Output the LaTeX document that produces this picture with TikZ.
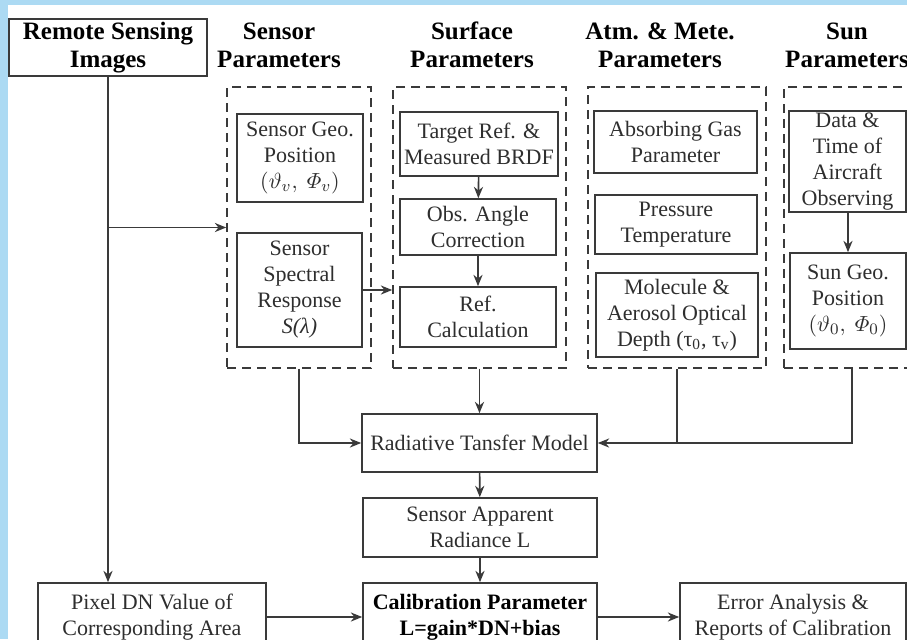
\documentclass[tikz,border=0pt]{standalone}
\usepackage{amsmath}
\usepackage{fontspec}
\setmainfont{Liberation Serif}
\usetikzlibrary{arrows.meta,positioning,calc}
\definecolor{lnclr}{HTML}{3A3A3A}
\definecolor{txclr}{HTML}{2E2E2E}
\definecolor{frmblue}{RGB}{172,218,243}
\tikzset{
  >={Stealth[length=2mm,width=1.6mm]},
  hdr/.style={font=\fontsize{12.5}{14}\selectfont\bfseries,align=center,
    inner sep=0pt,text=black},
  pbox/.style={draw=lnclr,line width=0.8pt,align=center,inner sep=1pt,
    font=\fontsize{11}{13}\selectfont,text=txclr},
  bbox/.style={pbox,font=\fontsize{11}{13}\selectfont\bfseries,text=black},
  grp/.style={draw=lnclr,line width=0.8pt,dash pattern=on 4.5pt off 3pt,
    inner sep=0pt},
  flow/.style={->,draw=lnclr,line width=0.8pt},
  link/.style={draw=lnclr,line width=0.8pt},
}
\begin{document}
\begin{tikzpicture}[x=0.5pt,y=-0.5pt]
  \useasboundingbox (0,0) rectangle (907,639);
  \clip (0,0) rectangle (907,639);
  \fill[white] (0,0) rectangle (907,639);
  \fill[frmblue] (0,0) rectangle (907,5);
  \fill[frmblue] (0,0) rectangle (8,639);

  % column headers
  \node[pbox,font=\fontsize{12.5}{14}\selectfont\bfseries,text=black,
    minimum width=99pt,minimum height=28.5pt] (rsi) at (108,47.5)
    {Remote Sensing\\Images};
  \node[hdr] (hsen) at (279,45) {Sensor\\Parameters};
  \node[hdr] (hsur) at (472,45) {Surface\\Parameters};
  \node[hdr] (hatm) at (660,45) {Atm. \& Mete.\\Parameters};
  \node[hdr] (hsun) at (847,45) {Sun\\Parameters};

  % parameter groups
  \node[grp,minimum width=72pt,minimum height=140.5pt] (gsen) at (299,227.5) {};
  \node[grp,minimum width=86.5pt,minimum height=140.5pt] (gsur) at (479.5,227.5) {};
  \node[grp,minimum width=89pt,minimum height=140.5pt] (gatm) at (677,227.5) {};
  \node[grp,minimum width=68pt,minimum height=140.5pt] (gsun) at (852,227.5) {};

  \node[pbox,minimum width=63pt,minimum height=44pt] (sgeo) at (300,158)
    {Sensor Geo.\\Position\\$(\vartheta_v,\ \varPhi_v)$};
  \node[pbox,minimum width=62.5pt,minimum height=57pt] (sspec) at (299.5,290)
    {Sensor\\Spectral\\Response\\\textit{S(λ)}};

  \node[pbox,minimum width=79pt,minimum height=32pt] (tref) at (479,144)
    {Target Ref. \&\\Measured BRDF};
  \node[pbox,minimum width=78pt,minimum height=28pt] (obs) at (478,227)
    {Obs. Angle\\Correction};
  \node[pbox,minimum width=78pt,minimum height=30pt] (refc) at (478,317)
    {Ref.\\Calculation};

  \node[pbox,minimum width=81.5pt,minimum height=31pt] (gas) at (675.5,142)
    {Absorbing Gas\\Parameter};
  \node[pbox,minimum width=81pt,minimum height=29.5pt] (prt) at (676,224.5)
    {Pressure\\Temperature};
  \node[pbox,minimum width=81pt,minimum height=42pt] (mol) at (677,315)
    {Molecule \&\\Aerosol Optical\\Depth (τ\textsubscript{0}, τ\textsubscript{v})};

  \node[pbox,minimum width=58.5pt,minimum height=50.5pt] (dtime) at (847.5,161.5)
    {Data \&\\Time of\\Aircraft\\Observing};
  \node[pbox,minimum width=58pt,minimum height=48pt] (sungeo) at (848,301)
    {Sun Geo.\\Position\\$(\vartheta_0,\ \varPhi_0)$};

  % model chain
  \node[pbox,minimum width=117.5pt,minimum height=29pt] (rtm) at (479.5,443)
    {Radiative Tansfer Model};
  \node[pbox,minimum width=117pt,minimum height=29.5pt] (sar) at (480,527.5)
    {Sensor Apparent\\Radiance L};
  \node[bbox,minimum width=117pt,minimum height=34pt] (calib) at (480,617)
    {Calibration Parameter\\L=gain*DN+bias};
  \node[pbox,minimum width=114pt,minimum height=34pt] (pixel) at (152,617)
    {Pixel DN Value of\\Corresponding Area};
  \node[pbox,minimum width=113pt,minimum height=34pt] (err) at (793,617)
    {Error Analysis \&\\Reports of Calibration};

  \draw[flow] (rsi.south) -- (rsi.south |- pixel.north);
  \draw[flow] (rsi.south |- gsen.west) -- (gsen.west);
  \draw[flow] (sspec.east) -- (sspec.east -| gsur.west);
  \draw[flow] (tref) -- (obs);
  \draw[flow] (obs) -- (refc);
  \draw[flow] (dtime.south -| sungeo.north) -- (sungeo.north);
  \draw[flow] (gsen.south) |- (rtm.west);
  \draw[flow] (gsur.south) -- (rtm.north);
  \draw[flow] (gsun.south) |- (rtm.east);
  \draw[link] (gatm.south) -- (gatm.south |- rtm.east);
  \draw[flow] (rtm) -- (sar);
  \draw[flow] (sar) -- (calib);
  \draw[flow] (pixel) -- (calib);
  \draw[flow] (calib) -- (err);
\end{tikzpicture}
\end{document}
